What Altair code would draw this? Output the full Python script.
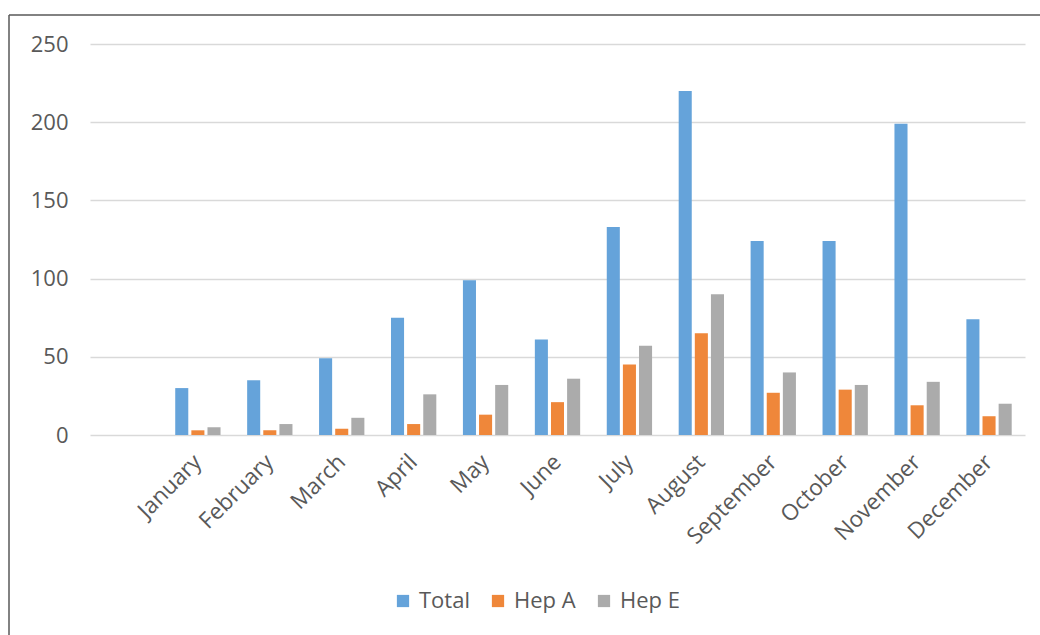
import altair as alt
import pandas as pd

months = ["January", "February", "March", "April", "May", "June",
          "July", "August", "September", "October", "November", "December"]
total = [30, 35, 49, 75, 99, 61, 133, 220, 124, 124, 199, 74]
hep_a = [3, 3, 4, 7, 13, 21, 45, 65, 27, 29, 19, 12]
hep_e = [5, 7, 11, 26, 32, 36, 57, 90, 40, 32, 34, 20]
series = ["Total", "Hep A", "Hep E"]
colors = ["#65A3DA", "#EF873A", "#ABABAB"]
y_ticks = [0, 50, 100, 150, 200, 250]
x_domain = [" "] + months

rows = []
for name, vals in zip(series, [total, hep_a, hep_e]):
    for m, v in zip(months, vals):
        rows.append({"Month": m, "Series": name, "Value": v})
df = pd.DataFrame(rows)

FONT = "Open Sans"
TXT = "#595959"

bars = alt.Chart(df).mark_bar().encode(
    x=alt.X("Month:N", title=None,
            scale=alt.Scale(domain=x_domain, paddingInner=0.37, paddingOuter=0.185),
            axis=alt.Axis(labelAngle=315, labelAlign="right", labelBaseline="middle",
                          labelPadding=23, ticks=False, domain=False, grid=False,
                          labelFont=FONT, labelFontSize=22.5, labelColor=TXT)),
    xOffset=alt.XOffset("Series:N", scale=alt.Scale(domain=series, paddingInner=0.19)),
    y=alt.Y("Value:Q", title=None,
            scale=alt.Scale(domain=[0, 250], nice=False),
            axis=alt.Axis(values=y_ticks, ticks=False, domain=False, labelPadding=22,
                          gridColor="#D9D9D9", gridWidth=1.5,
                          labelFont=FONT, labelFontSize=22, labelColor=TXT)),
    color=alt.Color("Series:N", scale=alt.Scale(domain=series, range=colors),
                    legend=alt.Legend(orient="none", legendX=302, legendY=546,
                                      direction="horizontal", title=None,
                                      symbolType="square", symbolSize=150,
                                      symbolStrokeWidth=0, labelFont=FONT,
                                      labelFontSize=22, labelColor=TXT,
                                      columnPadding=17, labelOffset=5)),
)

frame = pd.DataFrame({"a": [0]})
top_line = alt.Chart(frame).mark_rule(color="#595959", strokeWidth=1.5).encode(
    x=alt.value(-81), x2=alt.value(960), y=alt.value(-29))
left_line = alt.Chart(frame).mark_rule(color="#595959", strokeWidth=1.5).encode(
    x=alt.value(-81), y=alt.value(-29), y2=alt.value(600))

chart = alt.layer(bars, top_line, left_line).properties(
    width=935, height=391,
    background="white",
    autosize=alt.AutoSizeParams(type="none"),
    padding={"left": 90, "top": 44, "right": 15, "bottom": 200},
).configure_view(stroke=None, strokeWidth=0)

chart.save("out.html", embed_options={"renderer": "svg", "actions": False})
